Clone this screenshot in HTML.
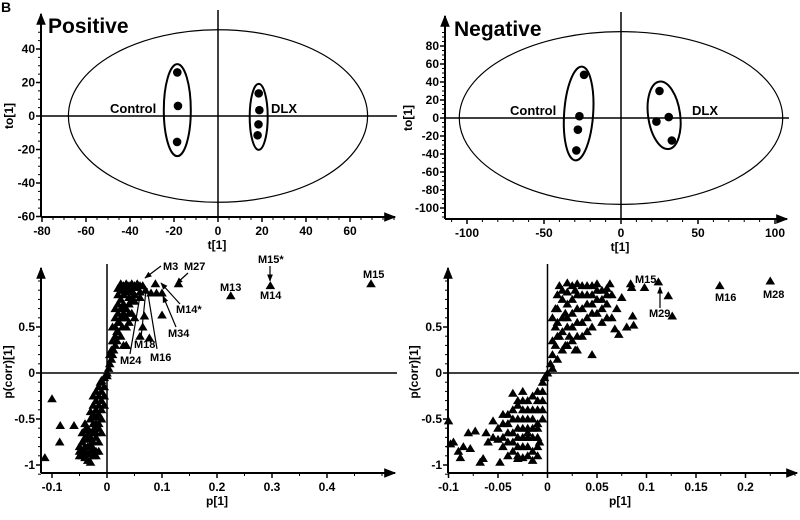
<!DOCTYPE html>
<html><head><meta charset="utf-8"><style>
html,body{margin:0;padding:0;background:#fff;width:800px;height:520px;overflow:hidden}
svg{font-family:"Liberation Sans",Arial,sans-serif;font-weight:bold}
</style></head><body>
<svg id="fig" width="800" height="520" viewBox="0 0 800 520">
<defs>
<marker id="ah" viewBox="0 0 10 10" refX="9" refY="5" markerWidth="6" markerHeight="6" orient="auto-start-reverse"><path d="M0,1 L10,5 L0,9 z" fill="#000"/></marker>
</defs>
<text x="1" y="12" font-size="14">B</text>
</svg>
<script>
const NS='http://www.w3.org/2000/svg';
const svg=document.getElementById('fig');
function el(tag,attrs,parent){const e=document.createElementNS(NS,tag);for(const k in attrs)e.setAttribute(k,attrs[k]);(parent||svg).appendChild(e);return e;}

// ---- data ----
const posCtrlT=[-18.5,-18.2,-18.6];
const posCtrlTo=[26,6,-15.5];
const posDlxT=[18.5,18.8,18.4,18];
const posDlxTo=[13.5,3.5,-5,-11.5];
const negCtrlT=[-24,-27,-28,-29];
const negCtrlTo=[48,2,-13,-36];
const negDlxT=[25,23,31,33];
const negDlxTo=[30,-4,1,-25];
const posP=[-0.05,-0.045,-0.04,-0.035,-0.03,-0.025,-0.02,-0.045,-0.04,-0.035,-0.03,-0.025,-0.02,-0.015,-0.04,-0.035,-0.03,-0.025,-0.02,-0.015,-0.01,-0.03,-0.025,-0.02,-0.015,-0.01,-0.025,-0.02,-0.015,-0.01,-0.02,-0.015,-0.01,-0.005,-0.01,-0.005,0,0,0.003,0.005,0.008,0.01,0.012,0.015,0.01,0.015,0.02,0.015,0.02,0.025,0.02,0.025,0.02,0.03,0.025,0.03,0.025,0.03,0.035,0.04,0.045,0.05,0.055,0.06,0.065,0.07,0.04,0.05,0.06,0.035,0.04,0.045,0.03,0.035,0.04,0.025,0.03,-0.045,-0.05,-0.04,-0.03,-0.02,-0.012,0.018,0.035,0.028,
-0.113,-0.1,-0.085,-0.086,-0.06,0.088,0.13,0.225,0.297,0.48,0.1,0.08,0.09,0.1,0.068,0.06,0.077,0.065,0.05,0.035,
0.035,0.045,0.055,0.06,0.05,0.045,0.04,0.03,0.028,0.022,0.018,0.012,0.008,0.005,0.03,0.04,0.035,-0.005,-0.01,-0.015,-0.02,-0.025,-0.03,-0.035,-0.04,-0.045,-0.05,-0.035,-0.03,-0.025,-0.02,-0.015,-0.02,-0.015,-0.005,-0.025,0.02,0.02,0.025,0.015,0.01,0.015,-0.04,-0.035];
const posCorr=[-0.9,-0.85,-0.92,-0.95,-0.97,-0.9,-0.85,-0.75,-0.7,-0.8,-0.85,-0.75,-0.7,-0.75,-0.62,-0.6,-0.65,-0.55,-0.6,-0.6,-0.65,-0.5,-0.45,-0.48,-0.45,-0.5,-0.35,-0.3,-0.35,-0.3,-0.2,-0.15,-0.2,-0.15,-0.08,-0.05,0,-0.03,0.05,0.1,0.15,0.2,0.25,0.3,0.35,0.4,0.45,0.5,0.55,0.6,0.65,0.7,0.75,0.75,0.8,0.85,0.9,0.95,0.9,0.95,0.9,0.95,0.93,0.95,0.95,0.9,0.82,0.85,0.82,0.7,0.75,0.65,0.6,0.5,0.55,0.4,0.3,-0.65,-0.8,-0.55,-0.42,-0.4,-0.1,0.35,0.3,0.5,
-0.92,-0.28,-0.57,-0.75,-0.57,0.97,0.97,0.84,0.95,0.97,0.87,0.87,0.87,0.63,0.62,0.4,0.38,0.5,0.6,0.3,
0.97,0.97,0.97,0.88,0.78,0.8,0.88,0.9,0.7,0.55,0.45,0.35,0.25,0.2,0.65,0.65,0.6,-0.25,-0.4,-0.55,-0.65,-0.62,-0.7,-0.68,-0.8,-0.9,-0.85,-0.88,-0.78,-0.82,-0.9,-0.85,-0.55,-0.25,-0.35,-0.25,0.85,0.92,0.97,0.7,0.5,0.6,-0.85,-0.72];
const negP=[-0.1,-0.098,-0.095,-0.09,-0.088,-0.085,-0.08,-0.078,-0.073,-0.068,-0.065,-0.062,-0.06,-0.055,-0.05,-0.048,-0.045,-0.035,-0.03,-0.025,
-0.045,-0.04,-0.04,-0.035,-0.035,-0.03,-0.03,-0.025,-0.025,-0.025,-0.02,-0.02,-0.02,-0.015,-0.015,-0.015,-0.01,-0.01,-0.01,-0.005,-0.005,-0.05,-0.055,-0.045,-0.03,-0.02,-0.01,0,0.003,0.005,0.005,
0.008,0.008,0.01,0.01,0.012,0.015,0.015,0.015,0.02,0.02,0.02,0.025,0.025,0.025,0.03,0.03,0.03,0.035,0.035,0.035,0.04,0.04,0.045,0.045,0.045,0.05,0.05,0.055,0.055,0.06,0.063,0.065,0.045,0.02,0.01,
0.068,0.07,0.072,0.075,0.08,0.084,0.086,0.087,0.085,0.098,0.112,0.122,0.126,0.174,0.225,0.06,0.065,
-0.04,-0.04,-0.035,-0.035,-0.03,-0.03,-0.03,-0.025,-0.025,-0.025,-0.02,-0.02,-0.02,-0.02,-0.015,-0.015,-0.015,-0.015,-0.01,-0.01,-0.01,-0.01,-0.005,-0.005,-0.005,-0.045,-0.04,-0.035,-0.03,-0.025,-0.008,-0.003,
0.005,0.01,0.01,0.012,0.015,0.015,0.018,0.02,0.02,0.022,0.025,0.025,0.028,0.03,0.03,0.03,0.035,0.035,0.04,0.04,0.04,0.045,0.045,0.05,0.05,0.055,0.055,0.06,0.06,0.018,0.028,0.008,0.005];
const negCorr=[-0.52,-0.77,-0.75,-0.85,-0.92,-0.8,-0.65,-0.82,-0.63,-0.97,-0.93,-0.65,-0.75,-0.52,-0.72,-0.97,-0.55,-0.22,-0.35,-0.2,
-0.8,-0.65,-0.9,-0.5,-0.75,-0.6,-0.9,-0.4,-0.7,-0.92,-0.5,-0.8,-0.3,-0.25,-0.6,-0.85,-0.4,-0.7,-0.2,-0.1,-0.3,-0.6,-0.7,-0.45,-0.3,-0.65,-0.55,0,0.1,0.2,0.05,
0.3,0.5,0.7,0.85,0.4,0.6,0.9,0.25,0.98,0.75,0.5,0.95,0.35,0.65,0.85,0.55,0.25,0.95,0.7,0.4,0.85,0.6,0.95,0.75,0.5,0.9,0.65,0.8,0.55,0.75,0.97,0.85,0.2,0.3,0.15,
0.48,0.7,0.42,0.82,0.5,0.97,0.62,0.52,0.93,0.93,0.99,0.84,0.62,0.95,1.0,0.92,0.6,
-0.75,-0.55,-0.85,-0.65,-0.8,-0.7,-0.5,-0.6,-0.8,-0.5,-0.9,-0.7,-0.6,-0.4,-0.7,-0.5,-0.4,-0.95,-0.8,-0.6,-0.9,-0.3,-0.2,-0.5,-0.4,-0.7,-0.45,-0.4,-0.93,-0.3,-0.75,-0.05,
0.35,0.55,0.4,0.95,0.8,0.45,0.65,0.88,0.6,0.4,0.8,0.5,0.9,0.7,0.4,0.97,0.85,0.55,0.95,0.75,0.45,0.85,0.65,0.8,0.97,0.7,0.9,0.85,0.6,0.3,0.25,0.7,0.6];

// ---- panel builder ----
function panel(o){
  const g=el('g',{});
  
  
  const X=v=>o.x0+(v)*o.kx, Y=v=>o.y0-(v)*o.ky;
  const ya=el('line',{x1:o.left,y1:o.bottom,x2:o.left,y2:o.top,stroke:'#000','stroke-width':2,'marker-end':'url(#ah)'},g);
  
  const xa=el('line',{x1:o.left,y1:o.bottom,x2:o.right,y2:o.bottom,stroke:'#000','stroke-width':2,'marker-end':'url(#ah)'},g);
  
  el('line',{x1:X(0),y1:o.top-4,x2:X(0),y2:o.bottom,stroke:'#000','stroke-width':1.5},g);
  el('line',{x1:o.left,y1:Y(0),x2:o.right+2,y2:Y(0),stroke:'#000','stroke-width':1.5},g);
  for(let v=o.xmin;v<=o.xmax+1e-9;v+=o.xminor){const x=X(v);if(x<o.left-0.5)continue;el('line',{x1:x,y1:o.bottom,x2:x,y2:o.bottom+3,stroke:'#000','stroke-width':1},g);}
  o.xt.forEach((v,i)=>{const x=X(v);el('line',{x1:x,y1:o.bottom,x2:x,y2:o.bottom+5,stroke:'#000','stroke-width':1.5},g);
    const t=el('text',{x:x,y:o.bottom+18,'font-size':12,'text-anchor':'middle'},g);t.textContent=o.xl[i];
    });
  for(let v=o.ymin;v<=o.ymax+1e-9;v+=o.yminor){const y=Y(v);el('line',{x1:o.left,y1:y,x2:o.left-3,y2:y,stroke:'#000','stroke-width':1},g);}
  o.yt.forEach((v,i)=>{const y=Y(v);el('line',{x1:o.left,y1:y,x2:o.left-5,y2:y,stroke:'#000','stroke-width':1.5},g);
    const t=el('text',{x:o.left-6,y:y+4,'font-size':12,'text-anchor':'end'},g);t.textContent=o.yl[i];
    });
  const xt=el('text',{x:o.xtx,y:o.bottom+32,'font-size':12,'text-anchor':'middle'},g);xt.textContent=o.xtitle;
  
  const yt=el('text',{x:0,y:0,'font-size':12,'text-anchor':'middle',transform:`translate(${o.ytx},${o.yty}) rotate(-90)`},g);yt.textContent=o.ytitle;
  
  return {g,X,Y};
}

// ---- Panel A ----
{
const P=panel({name:'positive-score-plot',x0:218,y0:116,kx:2.2,ky:1.675,left:41,right:395,top:14,bottom:217,
 xmin:-80,xmax:80,xminor:5,ymin:-60,ymax:55,yminor:5,xt:[-80,-60,-40,-20,0,20,40,60],xl:['-80','-60','-40','-20','0','20','40','60'],
 yt:[40,20,0,-20,-40,-60],yl:['40','20','0','-20','-40','-60'],xtitle:'t[1]',xtx:217,ytitle:'to[1]',ytx:13,yty:116});
const {g,X,Y}=P;
const e=el('ellipse',{cx:X(0),cy:Y(0),rx:68*2.2,ry:51.5*1.675,fill:'none',stroke:'#000','stroke-width':1.2},g);

const c1=el('ellipse',{cx:X(-18.5),cy:Y(3.5),rx:13.5,ry:46,fill:'none',stroke:'#000','stroke-width':2},g);

const c2=el('ellipse',{cx:X(18.5),cy:Y(-0.5),rx:9,ry:33,fill:'none',stroke:'#000','stroke-width':2},g);

posCtrlT.forEach((t,i)=>{const d=el('circle',{cx:X(t),cy:Y(posCtrlTo[i]),r:4.3,fill:'#000'},g);
});
posDlxT.forEach((t,i)=>{const d=el('circle',{cx:X(t),cy:Y(posDlxTo[i]),r:4.3,fill:'#000'},g);
});
let t=el('text',{x:110,y:113,'font-size':13},g);t.textContent='Control';
t=el('text',{x:271,y:113,'font-size':13},g);t.textContent='DLX';
t=el('text',{x:48,y:33,'font-size':21},g);t.textContent='Positive';
}
// ---- Panel B ----
{
const P=panel({name:'negative-score-plot',x0:621,y0:118,kx:1.54,ky:0.9,left:445,right:787,top:16,bottom:219,
 xmin:-110,xmax:105,xminor:10,ymin:-110,ymax:95,yminor:5,xt:[-100,-50,0,50,100],xl:['-100','-50','0','50','100'],
 yt:[80,60,40,20,0,-20,-40,-60,-80,-100],yl:['80','60','40','20','0','-20','-40','-60','-80','-100'],xtitle:'t[1]',xtx:620,ytitle:'to[1]',ytx:412,yty:118});
const {g,X,Y}=P;
const e=el('ellipse',{cx:X(0),cy:Y(0),rx:105*1.54,ry:96*0.9,fill:'none',stroke:'#000','stroke-width':1.2},g);

const c1=el('ellipse',{cx:X(-27.5),cy:Y(5),rx:14.5,ry:47,fill:'none',stroke:'#000','stroke-width':2,transform:`rotate(4 ${X(-27.5)} ${Y(5)})`},g);

const c2=el('ellipse',{cx:X(28),cy:Y(3),rx:16,ry:34,fill:'none',stroke:'#000','stroke-width':2,transform:`rotate(-8 ${X(28)} ${Y(3)})`},g);

negCtrlT.forEach((t,i)=>{const d=el('circle',{cx:X(t),cy:Y(negCtrlTo[i]),r:4.3,fill:'#000'},g);
});
negDlxT.forEach((t,i)=>{const d=el('circle',{cx:X(t),cy:Y(negDlxTo[i]),r:4.3,fill:'#000'},g);
});
let t=el('text',{x:510,y:115,'font-size':13},g);t.textContent='Control';
t=el('text',{x:692,y:115,'font-size':13},g);t.textContent='DLX';
t=el('text',{x:454,y:36,'font-size':21},g);t.textContent='Negative';
}
function tri(g,x,y,name){const p=el('path',{d:`M${x},${y-4.5} L${x+4.8},${y+3.5} L${x-4.8},${y+3.5} Z`,fill:'#000'},g);
}
function lbl(g,x,y,s){const t=el('text',{x:x,y:y,'font-size':11},g);t.textContent=s;
}
function arr(g,x1,y1,x2,y2){const l=el('line',{x1,y1,x2,y2,stroke:'#000','stroke-width':1.2,'marker-end':'url(#ah)'},g);
}
function line(g,x1,y1,x2,y2){el('line',{x1,y1,x2,y2,stroke:'#000','stroke-width':1.2},g);}
// ---- Panel C ----
{
const P=panel({name:'positive-s-plot',x0:107,y0:373,kx:550,ky:92,left:41,right:395,top:268,bottom:473,
 xmin:-0.1,xmax:0.5,xminor:0.05,ymin:-1.1,ymax:1,yminor:0.1,xt:[-0.1,0,0.1,0.2,0.3,0.4],xl:['-0.1','0','0.1','0.2','0.3','0.4'],
 yt:[0.5,0,-0.5,-1],yl:['0.5','0','-0.5','-1'],xtitle:'p[1]',xtx:217,ytitle:'p(corr)[1]',ytx:12,yty:372});
const {g,X,Y}=P;
posP.forEach((p,i)=>tri(g,X(p),Y(posCorr[i]),'variable-point'));
lbl(g,163,270,'M3');arr(g,161,266,145,278);
lbl(g,184,270,'M27');arr(g,188,273,176,284);
lbl(g,258,263,'M15*');arr(g,270,266,270,281);
lbl(g,220,291,'M13');lbl(g,260,299,'M14');lbl(g,363,278,'M15');
lbl(g,176,313,'M14*');arr(g,180,304,161,283);
lbl(g,168,337,'M34');arr(g,176,327,163,296);
lbl(g,134,348,'M18');line(g,141,338,146,290);
lbl(g,150,361,'M16');line(g,157,349,147,288);
lbl(g,120,364,'M24');line(g,130,354,141,290);
}
// ---- Panel D ----
{
const P=panel({name:'negative-s-plot',x0:547.5,y0:373,kx:990,ky:92,left:448,right:797,top:268,bottom:473,
 xmin:-0.1,xmax:0.25,xminor:0.025,ymin:-1.1,ymax:1,yminor:0.1,xt:[-0.1,-0.05,0,0.05,0.1,0.15,0.2],xl:['-0.1','-0.05','0','0.05','0.1','0.15','0.2'],
 yt:[0.5,0,-0.5,-1],yl:['0.5','0','-0.5','-1'],xtitle:'p[1]',xtx:620,ytitle:'p(corr)[1]',ytx:418,yty:372});
const {g,X,Y}=P;
negP.forEach((p,i)=>tri(g,X(p),Y(negCorr[i]),'variable-point'));
lbl(g,635,283,'M15');
lbl(g,649,317,'M29');arr(g,660,308,660,287);
lbl(g,715,301,'M16');lbl(g,763,298,'M28');
}
</script>
</body></html>
